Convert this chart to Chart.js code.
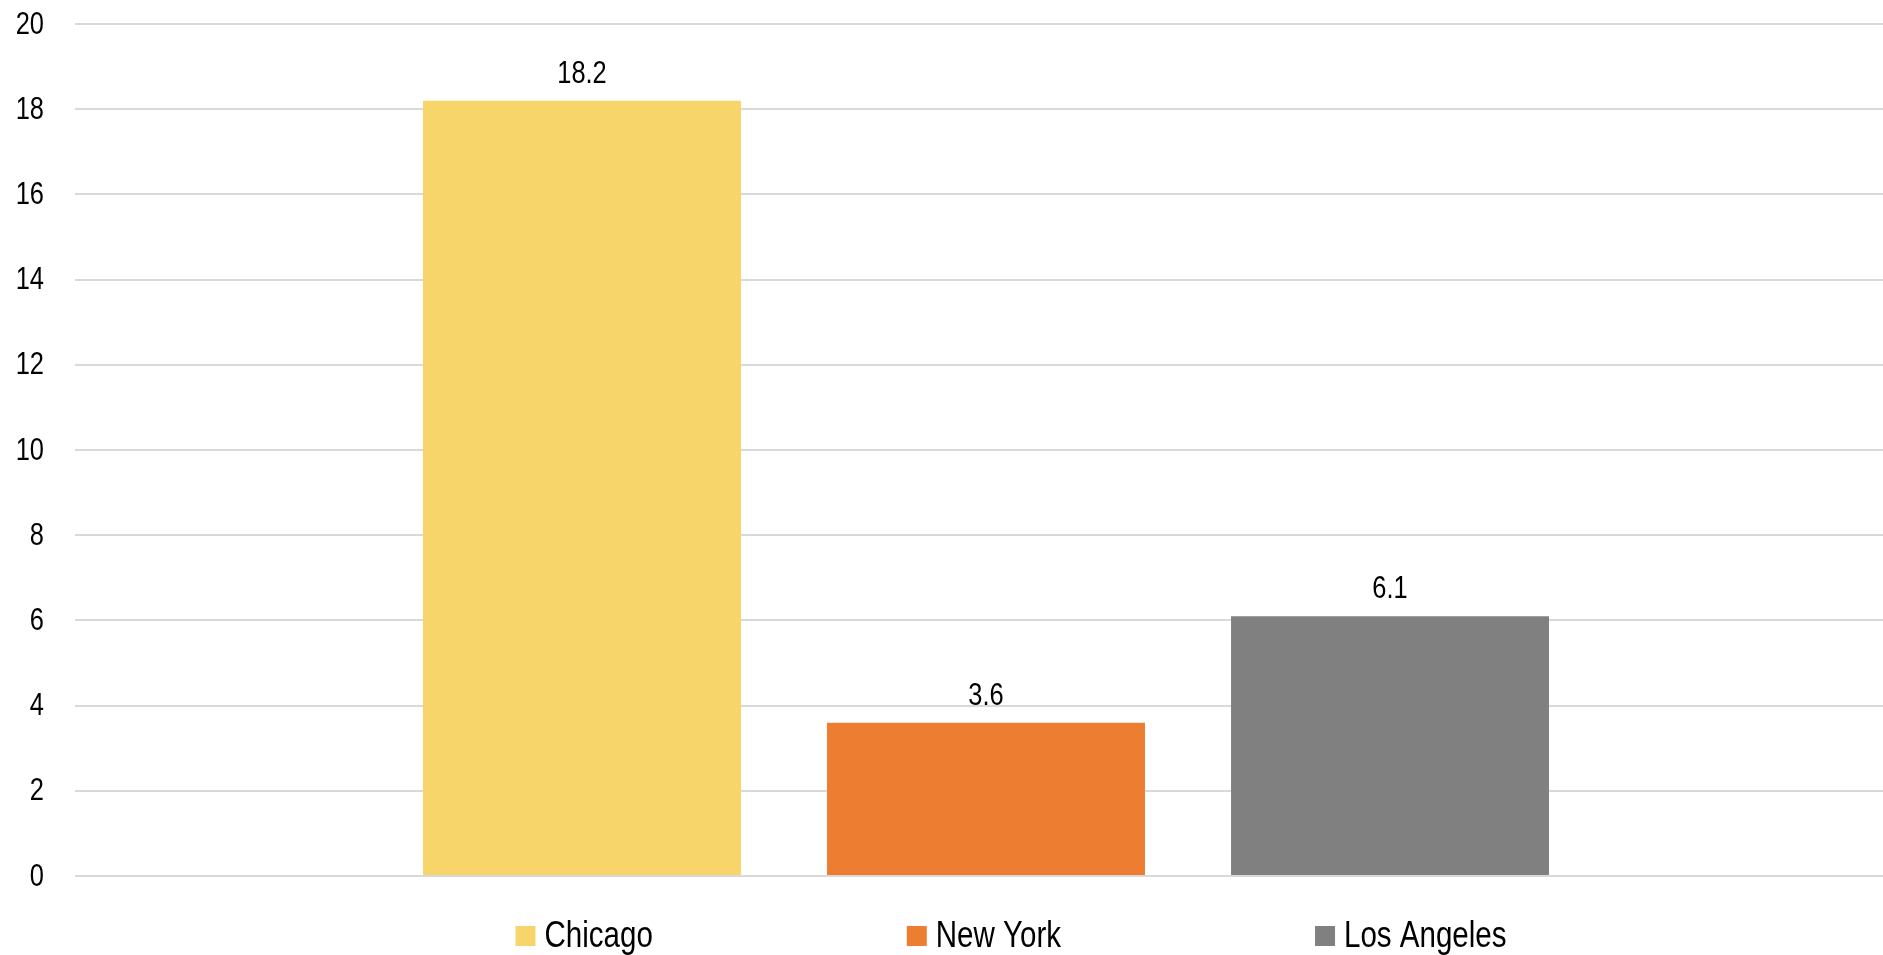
<!DOCTYPE html>
<html>
<head>
<meta charset="utf-8">
<script src="https://cdn.jsdelivr.net/npm/chart.js@4/dist/chart.umd.min.js"></script>
<style>
  html, body { margin: 0; padding: 0; background: #ffffff; }
  #wrap { width: 1883px; height: 955px; position: relative; }
</style>
</head>
<body>
<div id="wrap"><canvas id="c" width="1883" height="955"></canvas></div>
<script>
// ---- data ----
const categories = [''];
const cities = ['Chicago', 'New York', 'Los Angeles'];
const values = [18.2, 3.6, 6.1];
const colors = ['#F8D56B', '#ED7D31', '#808080'];
const yMin = 0;
const yMax = 20;
const yStep = 2;

const FONT = '"Liberation Sans", Arial, sans-serif';
const NARROW = 0.82; // Arial-Narrow-like horizontal compression

function narrowText(ctx, text, x, y, align, baseline) {
  ctx.save();
  ctx.translate(x, y);
  ctx.scale(NARROW, 1);
  ctx.textAlign = align;
  ctx.textBaseline = baseline;
  ctx.fillText(text, 0, 0);
  ctx.restore();
}

// y tick labels, positioned by the library's own y scale
const yLabels = {
  id: 'yLabels',
  afterDraw(chart) {
    const ctx = chart.ctx;
    const scale = chart.scales.y;
    ctx.save();
    ctx.font = '31px ' + FONT;
    ctx.fillStyle = '#000000';
    scale.ticks.forEach(t => {
      const y = scale.getPixelForValue(t.value);
      narrowText(ctx, String(t.value), 44, y + 1, 'right', 'middle');
    });
    ctx.restore();
  }
};

const valueLabels = {
  id: 'valueLabels',
  afterDatasetsDraw(chart) {
    const ctx = chart.ctx;
    ctx.save();
    ctx.font = '31px ' + FONT;
    ctx.fillStyle = '#000000';
    chart.data.datasets.forEach((ds, i) => {
      const meta = chart.getDatasetMeta(i);
      meta.data.forEach((bar, j) => {
        narrowText(ctx, String(ds.data[j]), bar.x, bar.y - 18, 'center', 'alphabetic');
      });
    });
    ctx.restore();
  }
};

const bottomLegend = {
  id: 'bottomLegend',
  afterDraw(chart) {
    const ctx = chart.ctx;
    ctx.save();
    ctx.font = '36px ' + FONT;
    const box = 20, gapText = 9, gapItem = 254;
    const items = chart.data.datasets.map(ds => ({
      text: ds.label, color: ds.backgroundColor, w: ctx.measureText(ds.label).width * NARROW
    }));
    let total = 0;
    items.forEach((it, i) => { total += box + gapText + it.w + (i < items.length - 1 ? gapItem : 0); });
    let x = 1011 - total / 2;
    const boxTop = 926, baseline = 947;
    items.forEach(it => {
      ctx.fillStyle = it.color;
      ctx.fillRect(x, boxTop, box, box);
      ctx.fillStyle = '#000000';
      narrowText(ctx, it.text, x + box + gapText, baseline, 'left', 'alphabetic');
      x += box + gapText + it.w + gapItem;
    });
    ctx.restore();
  }
};

new Chart(document.getElementById('c'), {
  type: 'bar',
  data: {
    labels: categories,
    datasets: cities.map((c, i) => ({
      label: c,
      data: [values[i]],
      backgroundColor: colors[i],
      borderWidth: 0,
      categoryPercentage: 0.6756,
      barPercentage: 0.787
    }))
  },
  options: {
    responsive: false,
    animation: false,
    devicePixelRatio: 1,
    layout: { padding: { top: 24, bottom: 79, left: 0, right: 0 } },
    plugins: {
      legend: { display: false },
      tooltip: { enabled: false }
    },
    scales: {
      x: { display: false },
      y: {
        min: yMin,
        max: yMax,
        border: { display: false },
        grid: {
          color: '#d9d9d9',
          lineWidth: 2,
          drawTicks: true,
          tickLength: 14,
          tickColor: '#d9d9d9',
          tickWidth: 2
        },
        ticks: {
          stepSize: yStep,
          display: false
        },
        afterFit(scale) { scale.width = 89; }
      }
    }
  },
  plugins: [valueLabels, yLabels, bottomLegend]
});
</script>
</body>
</html>
